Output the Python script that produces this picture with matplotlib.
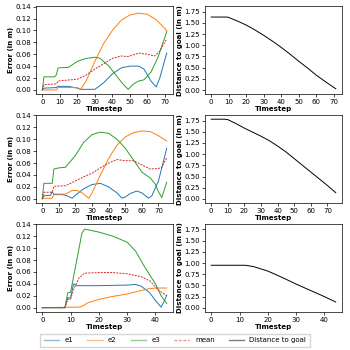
import numpy as np
import matplotlib.pyplot as plt
from matplotlib.lines import Line2D

# ---- episode 1 ----
t1_dist = [0, 9, 10, 15, 20, 25, 30, 35, 40, 45, 50, 55, 60, 65, 71]
d1 = [1.63, 1.63, 1.62, 1.54, 1.45, 1.34, 1.22, 1.09, 0.95, 0.80, 0.64, 0.49, 0.33, 0.19, 0.03]
t1_e1 = [0, 1, 8, 9, 15, 20, 22, 30, 35, 40, 45, 50, 55, 58, 62, 65, 67, 71]
e1_1 = [0, 0.003, 0.004, 0.006, 0.006, 0.003, 0.001, 0.001, 0.012, 0.027, 0.037, 0.040, 0.040, 0.035, 0.015, 0.005, 0.02, 0.062]
t1_e2 = [0, 8, 9, 20, 22, 25, 30, 35, 40, 45, 50, 55, 60, 65, 70, 71]
e2_1 = [0, 0, 0.004, 0.004, 0.001, 0.015, 0.048, 0.078, 0.100, 0.117, 0.126, 0.129, 0.127, 0.118, 0.103, 0.099]
t1_e3 = [0, 1, 7, 8, 9, 15, 20, 25, 30, 33, 38, 42, 46, 49, 52, 55, 58, 62, 66, 71]
e3_1 = [0, 0.022, 0.022, 0.025, 0.037, 0.038, 0.048, 0.053, 0.055, 0.053, 0.040, 0.025, 0.010, 0.001, 0.010, 0.015, 0.017, 0.030, 0.055, 0.098]
t1_mean = [0, 1, 8, 9, 20, 25, 30, 35, 40, 45, 49, 55, 60, 64, 67, 71]
mean_1 = [0, 0.009, 0.010, 0.015, 0.018, 0.025, 0.035, 0.044, 0.053, 0.057, 0.056, 0.062, 0.060, 0.057, 0.065, 0.086]

# ---- episode 2 ----
t2_dist = [0, 8, 10, 15, 20, 25, 30, 35, 40, 45, 50, 55, 60, 65, 70, 75]
d2 = [1.78, 1.78, 1.77, 1.68, 1.58, 1.49, 1.40, 1.30, 1.18, 1.05, 0.90, 0.75, 0.60, 0.45, 0.30, 0.14]
t2_e1 = [0, 1, 5, 6, 7, 12, 15, 18, 20, 25, 30, 35, 40, 45, 48, 50, 53, 57, 60, 64, 66, 70, 75]
e1_2 = [0, 0.005, 0.006, 0.012, 0.007, 0.007, 0.005, 0.001, 0.006, 0.017, 0.024, 0.026, 0.020, 0.010, 0.001, 0.003, 0.009, 0.013, 0.010, 0.001, 0.005, 0.030, 0.085]
t2_e2 = [0, 1, 6, 7, 14, 18, 21, 24, 28, 30, 35, 40, 45, 50, 55, 60, 65, 70, 75]
e2_2 = [0, 0.001, 0.001, 0.008, 0.008, 0.014, 0.014, 0.010, 0.001, 0.010, 0.040, 0.068, 0.090, 0.104, 0.111, 0.114, 0.113, 0.106, 0.097]
t2_e3 = [0, 1, 6, 7, 10, 14, 20, 25, 30, 35, 40, 45, 50, 55, 60, 65, 68, 70, 72, 75]
e3_2 = [0, 0.026, 0.026, 0.050, 0.052, 0.053, 0.073, 0.095, 0.108, 0.112, 0.110, 0.100, 0.085, 0.065, 0.045, 0.035, 0.025, 0.012, 0.002, 0.028]
t2_mean = [0, 1, 6, 7, 14, 20, 25, 30, 35, 40, 45, 50, 55, 60, 65, 70, 72, 75]
mean_2 = [0, 0.011, 0.011, 0.021, 0.022, 0.030, 0.037, 0.043, 0.052, 0.060, 0.066, 0.064, 0.064, 0.057, 0.050, 0.051, 0.053, 0.069]

# ---- episode 3 ----
t3_dist = [0, 12, 15, 20, 25, 30, 35, 40, 44]
d3 = [0.95, 0.95, 0.92, 0.82, 0.68, 0.53, 0.39, 0.25, 0.13]
t3_e1 = [0, 8, 9, 10, 11, 12, 20, 30, 33, 35, 38, 40, 42, 43, 44]
e1_3 = [0, 0, 0.017, 0.016, 0.040, 0.037, 0.037, 0.038, 0.039, 0.036, 0.025, 0.012, 0.001, 0.010, 0.021]
t3_e2 = [0, 13, 14, 16, 20, 25, 30, 35, 38, 40, 44]
e2_3 = [0, 0.001, 0.002, 0.008, 0.014, 0.019, 0.023, 0.029, 0.032, 0.033, 0.033]
t3_e3 = [0, 8, 9, 10, 12, 14, 15, 20, 25, 30, 33, 36, 40, 42, 44]
e3_3 = [0, 0, 0.025, 0.026, 0.075, 0.125, 0.132, 0.127, 0.120, 0.110, 0.095, 0.070, 0.040, 0.020, 0.007]
t3_mean = [0, 8, 9, 10, 11, 13, 15, 20, 25, 30, 35, 38, 41, 44]
mean_3 = [0, 0, 0.014, 0.014, 0.030, 0.050, 0.058, 0.059, 0.059, 0.057, 0.052, 0.045, 0.030, 0.020]

episodes = [
    (t1_e1, e1_1, t1_e2, e2_1, t1_e3, e3_1, t1_mean, mean_1, t1_dist, d1, [0, 10, 20, 30, 40, 50, 60, 70]),
    (t2_e1, e1_2, t2_e2, e2_2, t2_e3, e3_2, t2_mean, mean_2, t2_dist, d2, [0, 10, 20, 30, 40, 50, 60, 70]),
    (t3_e1, e1_3, t3_e2, e2_3, t3_e3, e3_3, t3_mean, mean_3, t3_dist, d3, [0, 10, 20, 30, 40]),
]

fs = 5
fig, axes = plt.subplots(3, 2, figsize=(3.5, 3.5), dpi=100)
fig.subplots_adjust(left=0.103, right=0.977, top=0.982, bottom=0.109, wspace=0.234, hspace=0.24)

lw = 0.7
for row, ep in enumerate(episodes):
    te1, e1, te2, e2, te3, e3, tm, m, td, d, xt = ep
    ax = axes[row, 0]
    ax.plot(te1, e1, color='tab:blue', lw=lw)
    ax.plot(te2, e2, color='tab:orange', lw=lw)
    ax.plot(te3, e3, color='tab:green', lw=lw)
    ax.plot(tm, m, color='tab:red', lw=lw, ls='--', dashes=(2, 1.2))
    ax.set_ylim(-0.007, 0.1405)
    ax.set_yticks(np.arange(0, 0.141, 0.02))
    ax.set_xticks(xt)
    ax.set_ylabel('Error (in m)', fontsize=fs, fontweight='bold', labelpad=1)
    ax.set_xlabel('Timestep', fontsize=fs, fontweight='bold', labelpad=1)

    ax2 = axes[row, 1]
    ax2.plot(td, d, color='black', lw=lw)
    ax2.set_ylim(-0.09, 1.87)
    ax2.set_yticks(np.arange(0, 1.76, 0.25))
    ax2.set_xticks(xt)
    ax2.set_ylabel('Distance to goal (in m)', fontsize=fs, fontweight='bold', labelpad=1)
    ax2.set_xlabel('Timestep', fontsize=fs, fontweight='bold', labelpad=1)

for ax in axes.flat:
    ax.tick_params(labelsize=fs, length=2, width=0.5, pad=1.5)
    for s in ax.spines.values():
        s.set_linewidth(0.5)

handles = [
    Line2D([], [], color='tab:blue', lw=1, alpha=0.5),
    Line2D([], [], color='tab:orange', lw=1, alpha=0.5),
    Line2D([], [], color='tab:green', lw=1, alpha=0.5),
    Line2D([], [], color='tab:red', lw=1, ls='--', dashes=(2, 1.2), alpha=0.5),
    Line2D([], [], color='black', lw=1, alpha=0.5),
]
fig.legend(handles, ['e1', 'e2', 'e3', 'mean', 'Distance to goal'], loc='lower center',
           bbox_to_anchor=(0.5, 0.0), ncol=5, fontsize=fs, frameon=True,
           handlelength=2.2, columnspacing=2.0, borderpad=0.5, fancybox=False,
           edgecolor='#cccccc')

fig.savefig('out.png', dpi=100)
